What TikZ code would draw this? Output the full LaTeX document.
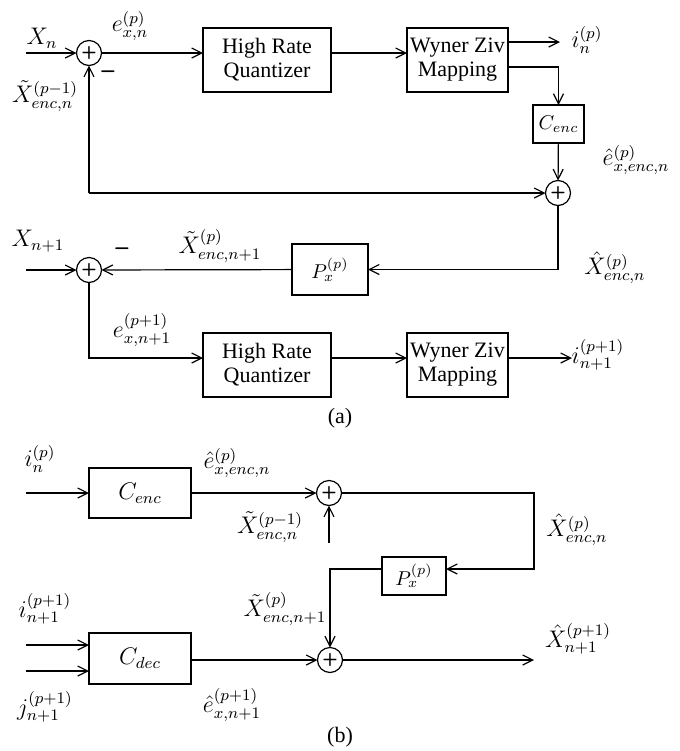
\documentclass[tikz,border=0pt]{standalone}
\usepackage[no-math]{fontspec}
\setmainfont{Liberation Serif}
\usetikzlibrary{arrows.meta}
\begin{document}
\begin{tikzpicture}[x=0.5pt,y=-0.5pt,line width=0.6pt,
  every node/.style={inner sep=0pt,outer sep=0pt},
  blk/.style={draw,rectangle,align=center,font=\fontsize{11}{12}\selectfont},
  sumnode/.style={draw,circle,minimum size=12.5pt,font=\sffamily\bfseries\small},
  lbl/.style={font=\fontsize{11.5}{13}\selectfont},
  minus/.style={font=\sffamily\bfseries\large},
  arr/.style={-{Straight Barb[length=5pt,width=5pt]}}]
\useasboundingbox (0,0) rectangle (680,751);

% ---------------- (a) ----------------
\node[sumnode] (s1) at (89,53) {+};
\node[blk,minimum width=64pt,minimum height=32pt] (hrq1) at (267,60) {High Rate\\Quantizer};
\node[blk,minimum width=50.5pt,minimum height=32pt] (wz1) at (457.5,60) {Wyner Ziv\\Mapping};
\node[blk,minimum width=25.5pt,minimum height=19pt,font=\normalsize] (cenc1) at (558.5,124) {$C_{enc}$};
\node[sumnode] (s2) at (558,193) {+};
\node[blk,minimum width=38pt,minimum height=25.5pt,font=\normalsize] (px1) at (330,269.5) {$P_x^{(p)}$};
\node[sumnode] (s3) at (89,270) {+};
\node[blk,minimum width=64pt,minimum height=32pt] (hrq2) at (267,365) {High Rate\\Quantizer};
\node[blk,minimum width=50.5pt,minimum height=32pt] (wz2) at (457.5,365) {Wyner Ziv\\Mapping};

\coordinate (xnin) at (26,53);
\coordinate (iout1) at (560,42);
\coordinate (fb) at (89,193);
\coordinate (xn1in) at (26,270);
\coordinate (iout2) at (572,358);

\draw[arr] (xnin) -- (s1);
\draw[arr] (s1) -- (hrq1.west |- s1);
\draw[arr] (hrq1.east |- s1) -- (wz1.west |- s1);
\draw[arr] (wz1.east |- iout1) -- (iout1);
\draw[arr] ([yshift=-3.5pt]wz1.east) -| (cenc1.north);
\draw[arr] (cenc1) -- (s2);
\draw[arr] (fb) -- (s1);
\draw[arr] (fb) -- (s2);
\draw[arr] (s2) |- (px1.east);
\draw[arr] (px1) -- (s3);
\draw[arr] (xn1in) -- (s3);
\draw[arr] (s3) |- ([yshift=3.5pt]hrq2.west);
\draw[arr] ([yshift=3.5pt]hrq2.east) -- ([yshift=3.5pt]wz2.west);
\draw[arr] ([yshift=3.5pt]wz2.east) -- (iout2);

\node[lbl] (l1) at (42,38) {$X_n$};
\node[lbl] (l2) at (130,26) {$e_{x,n}^{(p)}$};
\node[lbl] (l3) at (45,96) {$\tilde{X}_{enc,n}^{(p-1)}$};
\node[minus] (m1) at (108,75) {--};
\node[lbl] (l4) at (587,40) {$i_n^{(p)}$};
\node[lbl] (l5) at (636,160) {$\hat{e}_{x,enc,n}^{(p)}$};
\node[lbl] (l6) at (615,268) {$\hat{X}_{enc,n}^{(p)}$};
\node[lbl] (l7) at (38,241) {$X_{n+1}$};
\node[minus] (m2) at (122,252) {--};
\node[lbl] (l8) at (220,246) {$\tilde{X}_{enc,n+1}^{(p)}$};
\node[lbl] (l9) at (142,330) {$e_{x,n+1}^{(p+1)}$};
\node[lbl] (l10) at (598,355) {$i_{n+1}^{(p+1)}$};
\node[font=\fontsize{11}{13}\selectfont] (capa) at (340,418) {(a)};

% ---------------- (b) ----------------
\node[blk,minimum width=51pt,minimum height=25pt,font=\large] (cenc2) at (140,493) {$C_{enc}$};
\node[sumnode] (s4) at (329,493) {+};
\node[blk,minimum width=32pt,minimum height=19pt,font=\normalsize] (px2) at (414,576) {$P_x^{(p)}$};
\node[blk,minimum width=51pt,minimum height=25.5pt,font=\large] (cdec) at (140,658.5) {$C_{dec}$};
\node[sumnode] (s5) at (330,660) {+};

\coordinate (inb1) at (26,493);
\coordinate (xb) at (329,543);
\coordinate (cr) at (534,493);
\coordinate (inj1) at (26,645);
\coordinate (inj2) at (26,671);
\coordinate (outb) at (534,660);

\draw[arr] (inb1) -- (cenc2);
\draw[arr] (cenc2) -- (s4);
\draw[arr] (xb) -- (s4);
\draw[arr] (s4) -- (cr) |- ([yshift=3.5pt]px2.east);
\draw[arr] ([yshift=3.5pt]px2.west) -| (s5);
\draw[arr] (inj1) -- (cdec.west |- inj1);
\draw[arr] (inj2) -- (cdec.west |- inj2);
\draw[arr] (cdec.east |- s5) -- (s5);
\draw[arr] (s5) -- (outb);

\node[lbl] (b1) at (40,459) {$i_n^{(p)}$};
\node[lbl] (b2) at (237,463) {$\hat{e}_{x,enc,n}^{(p)}$};
\node[lbl] (b3) at (270,527) {$\tilde{X}_{enc,n}^{(p-1)}$};
\node[lbl] (b4) at (577,530) {$\hat{X}_{enc,n}^{(p)}$};
\node[lbl] (b5) at (285,609) {$\tilde{X}_{enc,n+1}^{(p)}$};
\node[lbl] (b6) at (45,609) {$i_{n+1}^{(p+1)}$};
\node[lbl] (b7) at (45,707) {$j_{n+1}^{(p+1)}$};
\node[lbl] (b8) at (232,705) {$\hat{e}_{x,n+1}^{(p+1)}$};
\node[lbl] (b9) at (578,639) {$\hat{X}_{n+1}^{(p+1)}$};
\node[font=\fontsize{11}{13}\selectfont] (capb) at (340,737) {(b)};
\end{tikzpicture}
\end{document}
